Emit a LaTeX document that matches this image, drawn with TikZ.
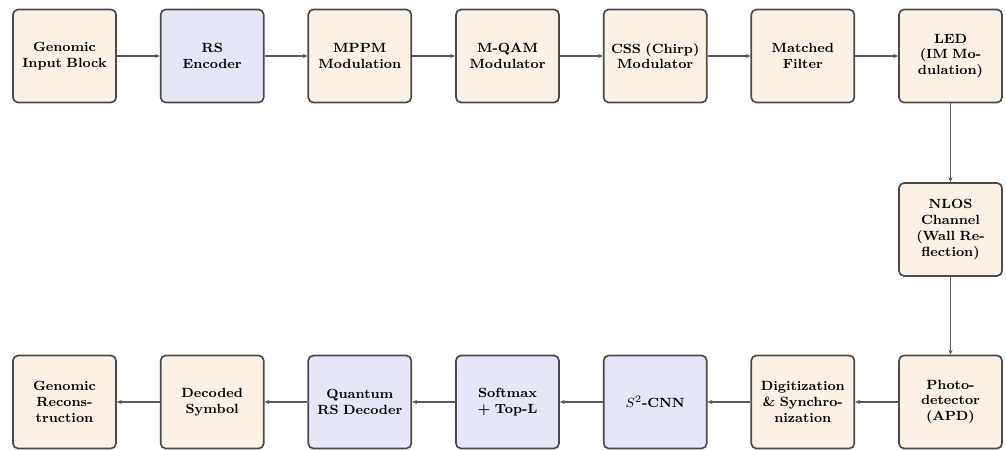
\documentclass[tikz,border=0pt]{standalone}
\usetikzlibrary{arrows.meta}
\definecolor{peach}{HTML}{FDF1E5}
\definecolor{lav}{HTML}{E6E6FB}
\definecolor{edge}{HTML}{4A4A4A}
\definecolor{conn}{HTML}{5A5A5A}
\tikzset{
  blk/.style={draw=edge, line width=1pt, rounded corners=3pt, fill=peach,
    minimum width=61.8pt, minimum height=55.8pt, text width=1.9cm,
    inner sep=0pt, align=center, font=\footnotesize\bfseries},
  blkq/.style={blk, fill=lav},
  conn/.style={draw=conn, line width=0.8pt, -{Stealth[length=3pt,width=2.6pt]}}
}
\begin{document}
\begin{tikzpicture}[x=0.6pt,y=-0.6pt]
\useasboundingbox (0,0) rectangle (1006,450);
% top row
\node[blk]  (gin)  at (64.5,56)   {Genomic\\Input Block};
\node[blkq] (rse)  at (212.2,56)  {RS\\Encoder};
\node[blk]  (mppm) at (359.8,56)  {MPPM\\Modulation};
\node[blk]  (mqam) at (507.5,56)  {M-QAM\\Modulator};
\node[blk]  (css)  at (655.2,56)  {CSS (Chirp)\\Modulator};
\node[blk]  (mf)   at (802.8,56)  {Matched\\Filter};
\node[blk]  (led)  at (950.5,56)  {LED\\(IM Mo-\\dulation)};
% middle
\node[blk]  (nlos) at (950.5,229.5) {NLOS\\Channel\\(Wall Re-\\flection)};
% bottom row
\node[blk]  (pd)   at (950.5,402) {Photo-\\detector\\(APD)};
\node[blk]  (dig)  at (802.8,402) {Digitization\\\& Synchro-\\nization};
\node[blkq] (cnn)  at (655.2,402) {$S^2$-CNN};
\node[blkq] (soft) at (507.5,402) {Softmax\\+ Top-L};
\node[blkq] (qrs)  at (359.8,402) {Quantum\\RS Decoder};
\node[blk]  (dec)  at (212.2,402) {Decoded\\Symbol};
\node[blk]  (grec) at (64.5,402)  {Genomic\\Recons-\\truction};
% connectors
\draw[conn] (gin) -- (rse);
\draw[conn] (rse) -- (mppm);
\draw[conn] (mppm) -- (mqam);
\draw[conn] (mqam) -- (css);
\draw[conn] (css) -- (mf);
\draw[conn] (mf) -- (led);
\draw[conn] (led) -- (nlos);
\draw[conn] (nlos) -- (pd);
\draw[conn] (pd) -- (dig);
\draw[conn] (dig) -- (cnn);
\draw[conn] (cnn) -- (soft);
\draw[conn] (soft) -- (qrs);
\draw[conn] (qrs) -- (dec);
\draw[conn] (dec) -- (grec);
\end{tikzpicture}
\end{document}
